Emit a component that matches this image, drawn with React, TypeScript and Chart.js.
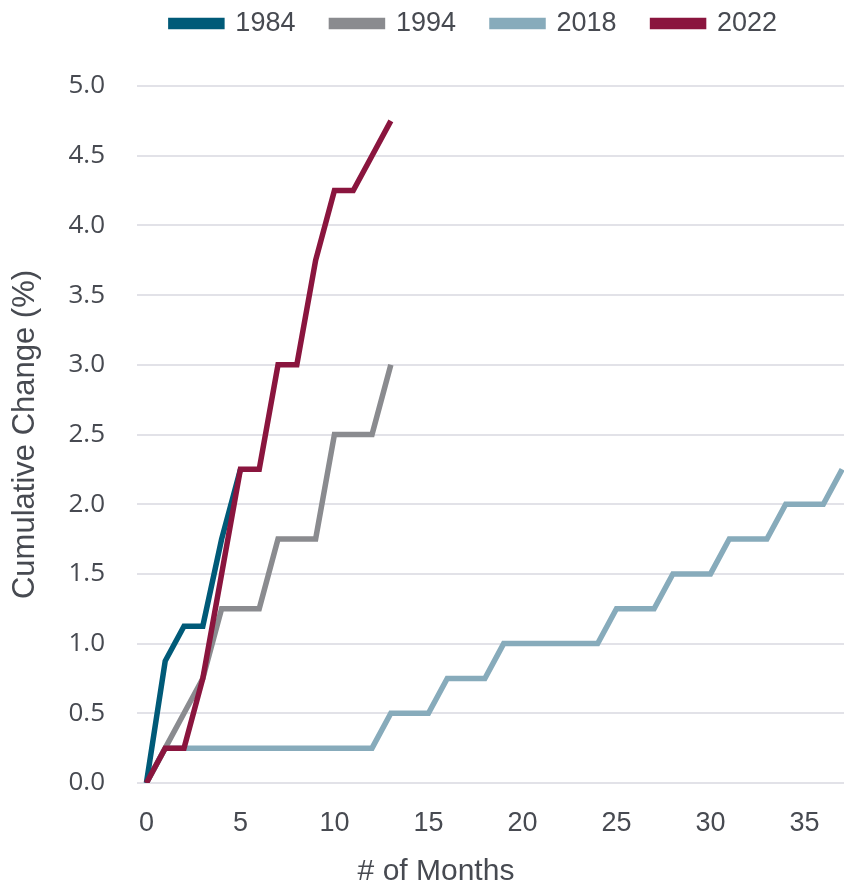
import React, { useEffect, useRef } from "react";
import { Chart, registerables } from "chart.js";

Chart.register(...registerables);

// Months since the first hike of each tightening cycle
const months1984 = [0, 1, 2, 3, 4, 5];
const values1984 = [0, 0.875, 1.125, 1.125, 1.75, 2.25];

const months1994 = [0, 1, 2, 3, 4, 5, 6, 7, 8, 9, 10, 11, 12, 13];
const values1994 = [0, 0.25, 0.5, 0.75, 1.25, 1.25, 1.25, 1.75, 1.75, 1.75, 2.5, 2.5, 2.5, 3.0];

const months2018 = [
  0, 1, 2, 3, 4, 5, 6, 7, 8, 9, 10, 11, 12, 13, 14, 15, 16, 17, 18, 19,
  20, 21, 22, 23, 24, 25, 26, 27, 28, 29, 30, 31, 32, 33, 34, 35, 36, 37,
];
const values2018 = [
  0, 0.25, 0.25, 0.25, 0.25, 0.25, 0.25, 0.25, 0.25, 0.25, 0.25, 0.25, 0.25,
  0.5, 0.5, 0.5, 0.75, 0.75, 0.75, 1.0, 1.0, 1.0, 1.0, 1.0, 1.0, 1.25, 1.25,
  1.25, 1.5, 1.5, 1.5, 1.75, 1.75, 1.75, 2.0, 2.0, 2.0, 2.25,
];

const months2022 = [0, 1, 2, 3, 4, 5, 6, 7, 8, 9, 10, 11, 12, 13];
const values2022 = [0, 0.25, 0.25, 0.75, 1.5, 2.25, 2.25, 3.0, 3.0, 3.75, 4.25, 4.25, 4.5, 4.75];

const xTicks = [0, 5, 10, 15, 20, 25, 30, 35];

const TEXT = "#474a51";
const GRID = "#e2e2e8";
const NARROW = "'Liberation Sans', Arial, sans-serif";
const ROUND = "'Open Sans', 'DejaVu Sans', sans-serif";

// Offsets for the legend row and the bottom caption
const LEGEND_DX = 52;
const LEGEND_DY = -39;
const CAPTION_DX = 14;

const toPoints = (xs: number[], ys: number[]) => xs.map((x, i) => ({ x, y: ys[i] }));

// Nudges the legend and caption boxes after the layout pass
const nudgeBoxes = {
  id: "nudgeBoxes",
  afterLayout(chart: any) {
    const lg = chart.legend;
    if (lg) {
      lg.left += LEGEND_DX;
      lg.right += LEGEND_DX;
      lg.top += LEGEND_DY;
      lg.bottom += LEGEND_DY;
    }
    const tb = chart.titleBlock;
    if (tb) {
      tb.left += CAPTION_DX;
      tb.right += CAPTION_DX;
    }
  },
};

export default function App() {
  const ref = useRef<HTMLCanvasElement | null>(null);

  useEffect(() => {
    document.body.style.margin = "0";
    const canvas = ref.current;
    if (!canvas) return;

    const line = (label: string, data: { x: number; y: number }[], color: string, order: number) => ({
      label,
      data,
      borderColor: color,
      backgroundColor: color,
      borderWidth: 5.5,
      pointRadius: 0,
      pointHoverRadius: 0,
      tension: 0,
      fill: false,
      order,
    });

    const chart = new Chart(canvas, {
      type: "line",
      data: {
        datasets: [
          line("1984", toPoints(months1984, values1984), "#005a78", 1),
          line("1994", toPoints(months1994, values1994), "#8a8b8f", 2),
          line("2018", toPoints(months2018, values2018), "#87abbb", 3),
          line("2022", toPoints(months2022, values2022), "#8a153e", 0),
        ],
      },
      plugins: [nudgeBoxes],
      options: {
        responsive: false,
        animation: false,
        layout: { padding: { top: 13, right: 0, bottom: 0, left: 0 } },
        plugins: {
          tooltip: { enabled: false },
          legend: {
            position: "top",
            align: "center",
            labels: {
              boxWidth: 51,
              boxHeight: 6,
              padding: 36,
              color: TEXT,
              font: { family: NARROW, size: 27 },
              sort: (a: any, b: any) => a.datasetIndex - b.datasetIndex,
            },
          },
          title: {
            display: true,
            position: "bottom",
            text: "# of Months",
            color: TEXT,
            padding: { top: 0, bottom: 0 },
            font: { family: NARROW, size: 30, weight: "normal", lineHeight: 1.0 },
          },
        },
        scales: {
          x: {
            type: "linear",
            min: -0.5,
            max: 37.1,
            border: { display: false },
            grid: { display: false, drawTicks: false },
            afterBuildTicks: (scale: any) => {
              scale.ticks = xTicks.map((v) => ({ value: v }));
            },
            afterFit: (scale: any) => {
              scale.height = 74;
            },
            ticks: {
              color: TEXT,
              padding: 24,
              maxRotation: 0,
              autoSkip: false,
              font: { family: NARROW, size: 27 },
            },
          },
          y: {
            type: "linear",
            min: 0,
            max: 5,
            border: { display: false },
            grid: { color: GRID, lineWidth: 2, drawTicks: false },
            afterFit: (scale: any) => {
              scale.width = 137;
            },
            ticks: {
              stepSize: 0.5,
              color: TEXT,
              padding: 32,
              font: { family: ROUND, size: 26 },
              callback: (v: any) => Number(v).toFixed(1),
            },
            title: {
              display: true,
              text: "Cumulative Change (%)",
              color: TEXT,
              padding: { top: 7, bottom: 0 },
              font: { family: NARROW, size: 31, lineHeight: 1.2 },
            },
          },
        },
      },
    } as any);

    return () => chart.destroy();
  }, []);

  return (
    <div style={{ width: 844, height: 887 }}>
      <canvas ref={ref} width={844} height={887} style={{ display: "block", width: 844, height: 887 }} />
    </div>
  );
}
